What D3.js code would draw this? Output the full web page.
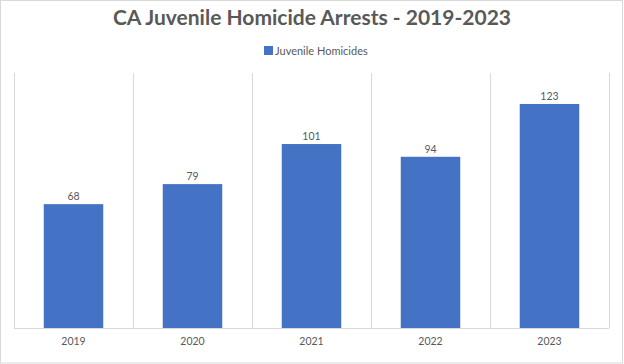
<!DOCTYPE html>
<html>
<head>
<meta charset="utf-8">
<script src="https://cdn.jsdelivr.net/npm/d3@7"></script>
<style>
html,body{margin:0;padding:0;background:#fff;}
svg{display:block;}
text{font-family:Lato,"Open Sans",sans-serif;}
</style>
</head>
<body>
<svg id="chart" width="624" height="364"></svg>
<script>
const categories = ["2019","2020","2021","2022","2023"];
const values = [68,79,101,94,123];
const seriesName = "Juvenile Homicides";
const title = "CA Juvenile Homicide Arrests - 2019-2023";

const W = 624, H = 364;
const svg = d3.select("#chart");
const m = {left:14, right:15, top:73, bottom:36};

svg.append("rect").attr("x",0.5).attr("y",0.5).attr("width",W-2).attr("height",H-1.5)
  .attr("fill","#fff").attr("stroke","#d9d9d9");

const x = d3.scaleBand().domain(categories).range([m.left, W-m.right]).paddingInner(0.5).paddingOuter(0.25);
const y = d3.scaleLinear().domain([0,140]).range([H-m.bottom, m.top]);

// vertical gridlines at category boundaries
const bounds = d3.range(categories.length+1).map(i => m.left + i*x.step());
svg.append("g").selectAll("line").data(bounds).join("line")
  .attr("x1",d=>Math.round(d)+0.5).attr("x2",d=>Math.round(d)+0.5)
  .attr("y1",y(140)).attr("y2",y(0))
  .attr("stroke","#d9d9d9").attr("stroke-width",1);

// bars
svg.append("g").selectAll("rect").data(values).join("rect")
  .attr("x",(d,i)=>x(categories[i]))
  .attr("y",d=>y(d))
  .attr("width",x.bandwidth())
  .attr("height",d=>y(0)-y(d))
  .attr("fill","#4472c4");

// baseline axis
const xAxis = d3.axisBottom(x).tickSize(0).tickPadding(9);
const ga = svg.append("g").attr("transform",`translate(0,${Math.round(y(0))+0.5})`).call(xAxis);
ga.select(".domain").attr("stroke","#d9d9d9").attr("d",`M${m.left},0H${W-m.right}`);
ga.selectAll("text").attr("fill","#595959").attr("font-size","10.5px").attr("font-family","Lato, sans-serif");

// value labels
svg.append("g").selectAll("text").data(values).join("text")
  .attr("x",(d,i)=>x(categories[i])+x.bandwidth()/2)
  .attr("y",d=>y(d)-4)
  .attr("text-anchor","middle")
  .attr("fill","#595959").attr("font-size","10.5px")
  .text(d=>d);

// title
svg.append("text").attr("x",W/2).attr("y",25).attr("text-anchor","middle")
  .attr("font-size","21px").attr("font-weight","bold").attr("fill","#595959")
  .text(title);

// legend
const lg = svg.append("g");
lg.append("rect").attr("x",264).attr("y",46).attr("width",9).attr("height",9).attr("fill","#4472c4");
lg.append("text").attr("x",275).attr("y",54.5).attr("font-size","11px").attr("fill","#595959").text(seriesName);
</script>
</body>
</html>
